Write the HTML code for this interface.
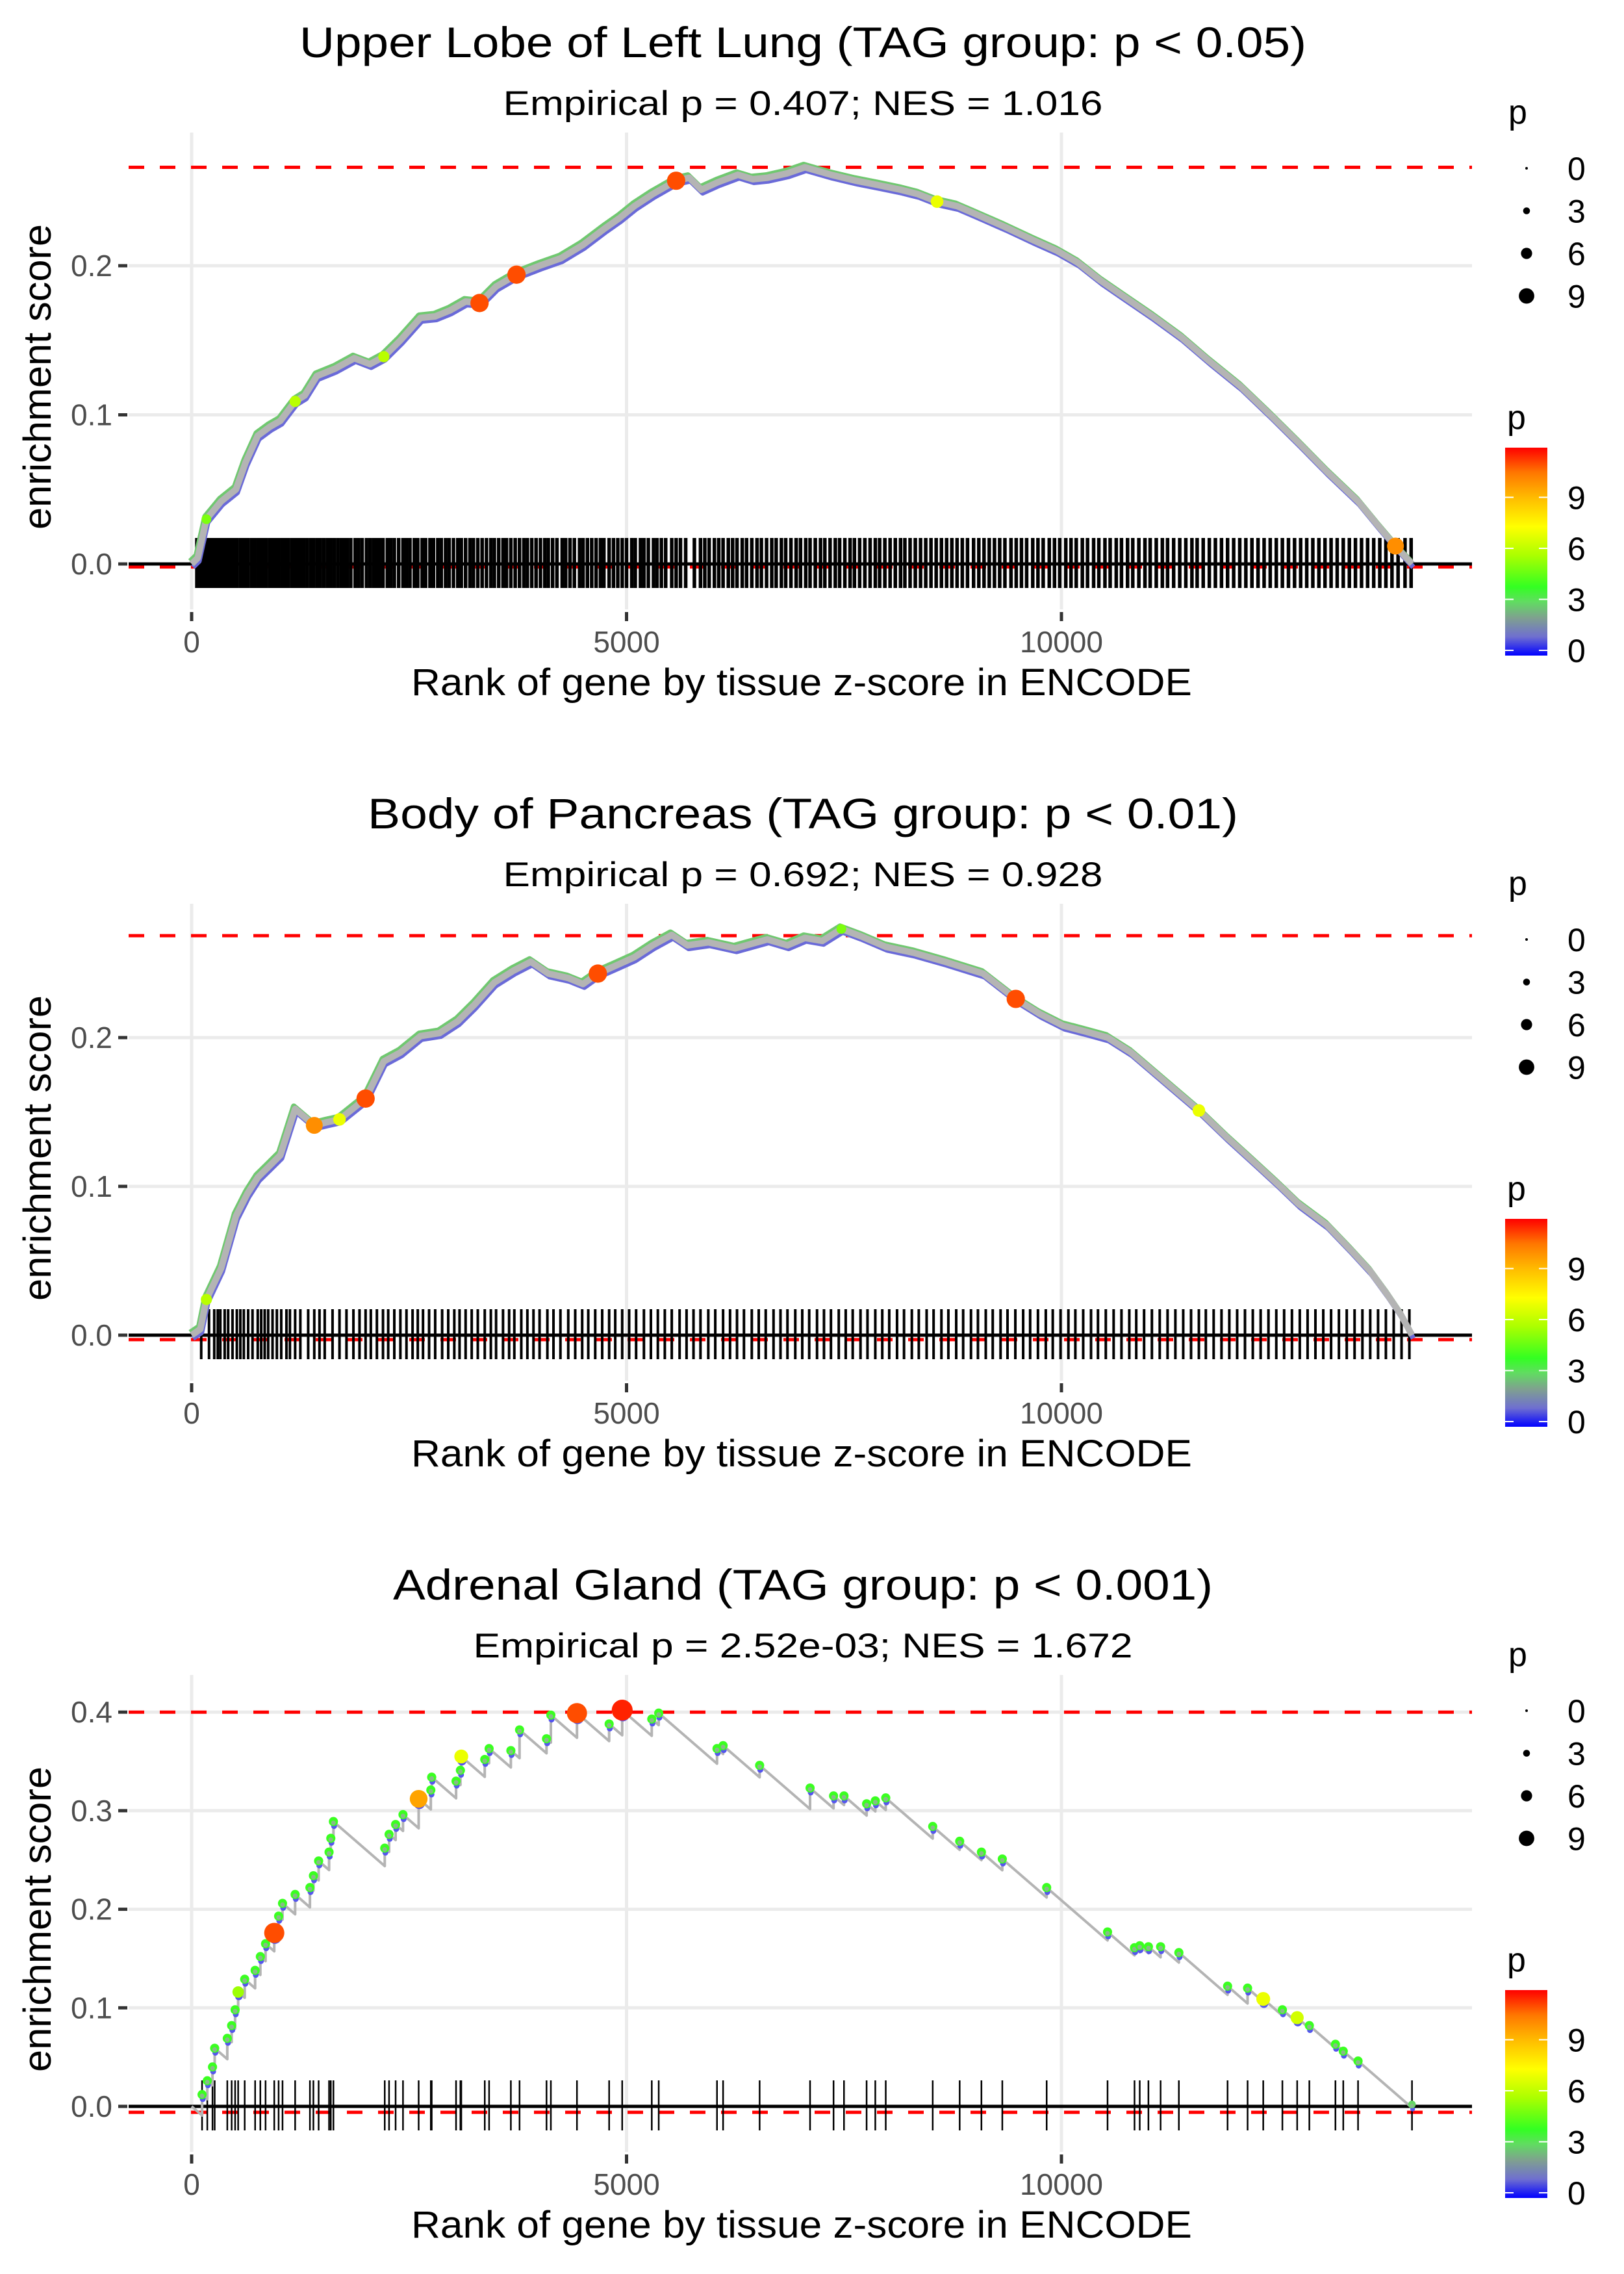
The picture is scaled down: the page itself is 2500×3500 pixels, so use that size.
<!DOCTYPE html>
<html><head><meta charset="utf-8">
<style>
html,body{margin:0;padding:0;background:#fff;}
svg{display:block;font-family:"Liberation Sans",Arial,sans-serif;}
</style></head>
<body>
<svg id="chart" xmlns="http://www.w3.org/2000/svg" width="2500" height="3500" viewBox="0 0 2500 3500">
<defs>
<linearGradient id="pgrad" x1="0" y1="1" x2="0" y2="0">
<stop offset="0" stop-color="#0000ff"/>
<stop offset="0.09" stop-color="#6f6fd0"/>
<stop offset="0.18" stop-color="#7fa090"/>
<stop offset="0.26" stop-color="#60dd60"/>
<stop offset="0.33" stop-color="#33ff22"/>
<stop offset="0.48" stop-color="#aaff00"/>
<stop offset="0.62" stop-color="#ffff00"/>
<stop offset="0.76" stop-color="#ffbb00"/>
<stop offset="0.88" stop-color="#ff7700"/>
<stop offset="1" stop-color="#ff0000"/>
</linearGradient>
</defs>
</svg>
<script>
// ---------- Panel 1 data: Upper Lobe of Left Lung ----------
const p1Rank = [0,70,170,340,510,620,760,900,1020,1190,1300,1440,1650,1870,2050,2210,2400,2630,2800,2970,3150,3310,3500,3735,4000,4245,4500,4750,4920,5090,5300,5570,5720,5860,6050,6280,6450,6620,6850,7050,7350,7640,7900,8150,8350,8570,8800,9000,9350,9680,9950,10190,10450,10700,11050,11380,11700,12060,12400,12730,13050,13410,13650,13840,14030];
const p1ES = [0,0.004,0.03,0.042,0.05,0.068,0.086,0.092,0.096,0.109,0.113,0.126,0.131,0.138,0.134,0.139,0.15,0.165,0.166,0.17,0.176,0.175,0.186,0.194,0.2,0.205,0.214,0.225,0.232,0.24,0.248,0.257,0.259,0.251,0.256,0.261,0.258,0.259,0.262,0.266,0.261,0.257,0.254,0.251,0.248,0.243,0.24,0.235,0.226,0.217,0.21,0.202,0.19,0.18,0.166,0.152,0.136,0.119,0.1,0.081,0.062,0.042,0.025,0.012,0];
const p1P = [2,2,5,3,3,3,2,3,2,6,3,3,3,4,3,6,3,3,3,3,3,11,3,11,4,3,3,4,3,3,3,11,4,3,4,3,4,3,4,4,3,3,3,3,3,7,3,3,3,4,3,3,3,3,3,4,3,3,3,4,3,4,3,10,2];
const p1Hits = [60,95,130,160,185,210,240,275,300,330,360,385,410,445,470,500,520,560,590,615,650,690,720,760,790,830,860,900,935,965,1000,1040,1080,1110,1150,1185,1220,1260,1290,1330,1370,1400,1440,1480,1520,1560,1600,1640,1680,1720,1760,1790,1830,1880,1920,1960,2010,2050,2090,2130,2160,2200,2250,2290,2330,2380,2430,2470,2510,2560,2600,2650,2690,2740,2780,2830,2870,2920,2960,3010,3060,3100,3150,3200,3240,3290,3340,3390,3440,3480,3530,3580,3620,3670,3720,3770,3820,3860,3910,3960,4010,4060,4100,4150,4200,4260,4300,4350,4400,4460,4500,4550,4600,4650,4700,4740,4800,4850,4900,4950,5000,5060,5100,5160,5200,5250,5310,5350,5400,5450,5520,5570,5620,5680,5780,5850,5900,5950,6010,6060,6110,6170,6220,6270,6330,6380,6440,6500,6550,6610,6670,6720,6780,6830,6890,6950,7000,7060,7110,7170,7230,7280,7340,7400,7450,7510,7570,7620,7680,7740,7800,7860,7910,7970,8030,8090,8150,8200,8260,8320,8380,8440,8500,8560,8620,8680,8740,8800,8860,8920,8990,9050,9110,9170,9230,9290,9350,9420,9480,9540,9600,9670,9730,9790,9860,9920,9980,10050,10110,10170,10240,10300,10370,10430,10500,10560,10630,10690,10760,10820,10890,10960,11020,11090,11160,11220,11290,11360,11430,11500,11560,11630,11700,11770,11840,11910,11980,12050,12120,12190,12260,12330,12400,12470,12540,12610,12680,12750,12820,12890,12960,13030,13100,13170,13240,13310,13380,13450,13520,13590,13660,13730,13800,13870,13950,14020];

// ---------- Panel 2 data: Body of Pancreas ----------
const p2Rank = [0,100,170,340,510,640,760,900,1020,1190,1410,1550,1700,2000,2210,2400,2630,2850,3060,3250,3480,3700,3900,4100,4330,4500,4670,4900,5090,5300,5520,5700,5940,6250,6620,6850,7050,7250,7470,7700,7980,8300,8660,9100,9475,9750,10020,10280,10530,10800,11040,11300,11580,11900,12220,12480,12730,13050,13330,13550,13750,13900,14030];
const p2ES = [0,0.004,0.024,0.045,0.08,0.095,0.106,0.114,0.121,0.152,0.141,0.143,0.145,0.159,0.184,0.19,0.201,0.203,0.211,0.222,0.237,0.245,0.251,0.243,0.24,0.236,0.243,0.249,0.254,0.262,0.269,0.262,0.264,0.26,0.266,0.262,0.267,0.265,0.273,0.268,0.261,0.257,0.251,0.243,0.226,0.216,0.208,0.204,0.2,0.19,0.178,0.165,0.151,0.133,0.116,0.102,0.088,0.074,0.057,0.043,0.027,0.014,0];
const p2P = [2,2,6,3,3,3,3,3,3,3,10,3,7,11,3,3,3,3,3,3,3,3,3,3,3,3,11,3,3,3,3,3,3,3,3,3,4,3,5,3,3,3,3,3,11,3,3,3,4,3,3,3,7,3,3,3,4,3,3,3,3,3,2];
const p2Hits = [110,200,260,300,330,380,420,470,520,560,600,650,700,760,800,840,880,930,980,1030,1090,1130,1190,1250,1340,1410,1470,1530,1620,1700,1780,1860,1930,2000,2060,2130,2200,2260,2330,2400,2470,2540,2600,2660,2730,2800,2880,2950,3020,3080,3150,3220,3290,3370,3440,3500,3580,3650,3710,3790,3860,3930,4000,4090,4160,4240,4330,4410,4490,4560,4640,4720,4800,4870,4950,5030,5110,5200,5280,5360,5440,5520,5610,5690,5770,5850,5940,6020,6110,6190,6270,6350,6440,6520,6600,6690,6770,6850,6940,7020,7100,7190,7270,7350,7440,7520,7600,7690,7770,7860,7940,8020,8110,8190,8280,8360,8450,8530,8620,8700,8790,8870,8960,9040,9130,9210,9300,9380,9470,9560,9640,9730,9820,9900,9990,10080,10160,10250,10340,10420,10510,10600,10690,10780,10860,10950,11040,11130,11220,11310,11400,11490,11580,11660,11750,11840,11930,12020,12110,12200,12290,12380,12470,12560,12650,12740,12830,12920,13010,13100,13190,13280,13370,13460,13550,13640,13730,13820,13910,14000];

// ---------- Panel 3 data: Adrenal Gland (hit ranks, ES after each hit, p) ----------
const p3Hits = [120,180,240,265,410,460,500,535,610,730,790,850,950,1000,1045,1190,1360,1400,1460,1580,1600,1630,2220,2270,2345,2430,2610,2750,2760,3040,3090,3100,3370,3420,3670,3770,4080,4130,4430,4800,4950,5290,5370,6040,6110,6530,7110,7380,7500,7760,7860,7980,8520,8830,9080,9320,9830,10530,10840,10900,11000,11140,11350,11910,12140,12320,12540,12710,12850,13150,13240,13410,14030];
const p3ES = [0.012,0.026,0.04,0.059,0.069,0.082,0.098,0.116,0.129,0.138,0.152,0.165,0.176,0.193,0.206,0.215,0.222,0.234,0.249,0.258,0.272,0.289,0.262,0.276,0.286,0.296,0.312,0.321,0.334,0.33,0.341,0.355,0.352,0.363,0.361,0.382,0.373,0.397,0.399,0.388,0.402,0.393,0.399,0.363,0.366,0.346,0.323,0.315,0.315,0.307,0.31,0.313,0.284,0.269,0.258,0.251,0.222,0.177,0.161,0.163,0.162,0.162,0.156,0.122,0.12,0.109,0.098,0.09,0.082,0.063,0.056,0.046,0.002];
const p3P = [4,4,4,4,4,4,4,5.5,4,4,4,4,11,4,4,4,4,4,4,4,4,4,4,4,4,4,9.5,4,4,4,4,7,4,4,4,4,4,4,11,4,11.5,4,4,4,4,4,4,4,4,4,4,4,4,4,4,4,4,4,4,4,4,4,4,4,4,7,4,6.5,4,4,4,4,3];
const p3MissDrop = 0.0000765;

// ---------- shared labels ----------
const titles = ["Upper Lobe of Left Lung (TAG group: p < 0.05)","Body of Pancreas (TAG group: p < 0.01)","Adrenal Gland (TAG group: p < 0.001)"];
const subtitles = ["Empirical p = 0.407; NES = 1.016","Empirical p = 0.692; NES = 0.928","Empirical p = 2.52e-03; NES = 1.672"];
const titleLens = [1550,1340,1262];
const subLens = [923,923,1015];
const xTicks = [0,5000,10000];
const yTicksA = [0,0.1,0.2];
const yTicksC = [0,0.1,0.2,0.3,0.4];
const topLines = [0.266,0.2685,0.4];
const botLines = [-0.002,-0.003,-0.006];
const sizeLegend = [0,3,6,9];
const colorLegend = [0,3,6,9];
const rugWidths = [5.5,4,2.5];

const NS = "http://www.w3.org/2000/svg";
const svg = document.getElementById('chart');
function mk(tag, attrs, parent, text){
  const e = document.createElementNS(NS, tag);
  for (const k in attrs) e.setAttribute(k, attrs[k]);
  if (text !== undefined) e.textContent = text;
  (parent || svg).appendChild(e);
  return e;
}
const colorStops = [[0,[0,0,255]],[1,[111,111,208]],[2.2,[127,160,144]],[3.1,[96,221,96]],[3.9,[51,255,34]],[5.7,[170,255,0]],[7.4,[255,255,0]],[9,[255,187,0]],[10.5,[255,119,0]],[11.9,[255,0,0]]];
function pColor(p){
  if (p <= colorStops[0][0]) return 'rgb(0,0,255)';
  for (let i=1;i<colorStops.length;i++){
    if (p <= colorStops[i][0]){
      const a=colorStops[i-1], b=colorStops[i], t=(p-a[0])/(b[0]-a[0]);
      const c=a[1].map((v,j)=>Math.round(v+(b[1][j]-v)*t));
      return 'rgb('+c.join(',')+')';
    }
  }
  return 'rgb(255,0,0)';
}
function pRadius(p){ return 2 + p*1.1; }

const X0 = 295, XS = 0.1339;
function xScale(r){ return X0 + r*XS; }
const offs = [0,1187,2374];
const yUnit = [2295,2290,1517];
function makeY(k){ const y0 = 868 + offs[k]; return v => y0 - v*yUnit[k]; }

function drawPanel(k, ranks, es, ps, hits, yTicks, sawtooth){
  const off = offs[k], yS = makeY(k);
  const g = mk('g', {});
  
  
  const t = mk('text', {x:1236, y:88+off, 'font-size':66, 'text-anchor':'middle', fill:'#000', textLength:titleLens[k], lengthAdjust:'spacingAndGlyphs'}, g, titles[k]);
  
  
  const st = mk('text', {x:1236, y:177+off, 'font-size':53, 'text-anchor':'middle', fill:'#000', textLength:subLens[k], lengthAdjust:'spacingAndGlyphs'}, g, subtitles[k]);
  
  
  const top = 204 + off, bot = 938 + off;
  yTicks.forEach(v => {
    const gl = mk('line', {x1:198, x2:2266, y1:yS(v), y2:yS(v), stroke:'#ebebeb', 'stroke-width':5}, g);
    
    
    const tm = mk('line', {x1:182, x2:196, y1:yS(v), y2:yS(v), stroke:'#333', 'stroke-width':5}, g);
    
    
    const tl = mk('text', {x:173, y:yS(v)+16, 'font-size':46, 'text-anchor':'end', fill:'#4d4d4d'}, g, v.toFixed(1));
    
    
  });
  xTicks.forEach(v => {
    const gl = mk('line', {x1:xScale(v), x2:xScale(v), y1:top, y2:bot, stroke:'#ebebeb', 'stroke-width':5}, g);
    
    
    const tm = mk('line', {x1:xScale(v), x2:xScale(v), y1:bot+4, y2:bot+18, stroke:'#333', 'stroke-width':5}, g);
    
    
    const tl = mk('text', {x:xScale(v), y:bot+66, 'font-size':46, 'text-anchor':'middle', fill:'#4d4d4d'}, g, String(v));
    
    
  });
  const xt = mk('text', {x:1234, y:1070+off, 'font-size':58, 'text-anchor':'middle', fill:'#000', textLength:1202, lengthAdjust:'spacingAndGlyphs'}, g, 'Rank of gene by tissue z-score in ENCODE');
  
  
  const yt = mk('text', {x:0, y:0, 'font-size':60, 'text-anchor':'middle', fill:'#000', transform:'translate(78,'+(580+off)+') rotate(-90)', textLength:470, lengthAdjust:'spacingAndGlyphs'}, g, 'enrichment score');
  
  
  [topLines[k], botLines[k]].forEach(v => {
    const l = mk('line', {x1:198, x2:2266, y1:yS(v), y2:yS(v), stroke:'#ff0000', 'stroke-width':5, 'stroke-dasharray':'24 24'}, g);
    
    
  });
  const zl = mk('line', {x1:198, x2:2266, y1:yS(0), y2:yS(0), stroke:'#000', 'stroke-width':5}, g);
  
  
  const rug = mk('g', {}, g);
  
  
  hits.forEach(h => {
    const l = mk('line', {x1:xScale(h), x2:xScale(h), y1:yS(0)-40, y2:yS(0)+37, stroke:'#000', 'stroke-width':rugWidths[k]}, rug);
    
    
  });
  let pts = [];
  if (sawtooth){
    pts.push([0,0]);
    let prevR = 0, prevE = 0;
    ranks.forEach((r,i) => {
      const before = prevE - p3MissDrop*(r-prevR);
      pts.push([r, before]); pts.push([r, es[i]]);
      prevR = r; prevE = es[i];
    });
  } else {
    ranks.forEach((r,i) => pts.push([r, es[i]]));
  }
  const ptStr = pts.map(p => xScale(p[0]).toFixed(1)+','+yS(p[1]).toFixed(1)).join(' ');
  if (!sawtooth){
    const blue = mk('polyline', {points:ptStr, fill:'none', stroke:'#6a6ad8', 'stroke-width':8, transform:'translate(2,5)', 'stroke-linejoin':'round'}, g);
    
    
    const grn = mk('polyline', {points:ptStr, fill:'none', stroke:'#70c870', 'stroke-width':9, transform:'translate(-2,-4)', 'stroke-linejoin':'round'}, g);
    
    
  }
  const line = mk('polyline', {points:ptStr, fill:'none', stroke:'#b4b4b4', 'stroke-width':sawtooth?4:10, 'stroke-linejoin':'round'}, g);
  
  
  ranks.forEach((r,i) => {
    const p = ps[i];
    if (!sawtooth && p < 5) return;
    if (sawtooth){
      const b = mk('circle', {cx:xScale(r)+1, cy:yS(es[i])+7, r:pRadius(p)*0.7, fill:'#5555ee'}, g);
      
      
    }
    const c = mk('circle', {cx:xScale(r), cy:yS(es[i]), r:pRadius(p)*(sawtooth?1.1:1), fill:pColor(p)}, g);
    
    
    if (sawtooth && p < 5){
      const inner = mk('circle', {cx:xScale(r), cy:yS(es[i])+2, r:pRadius(p)*0.55, fill:'#88bb88'}, g);
      
      
    }
  });
  const lg = mk('g', {}, g);
  
  
  const lt = mk('text', {x:2322, y:190+off, 'font-size':52, fill:'#000'}, lg, 'p');
  
  
  sizeLegend.forEach((v,i) => {
    const cy = 259 + i*65.5 + off;
    const c = mk('circle', {cx:2350, cy:cy, r:pRadius(v), fill:'#000'}, lg);
    
    
    const tx = mk('text', {x:2413, y:cy+18, 'font-size':50, fill:'#000'}, lg, String(v));
    
    
  });
  const cg = mk('g', {}, g);
  
  
  const ct = mk('text', {x:2320, y:660+off, 'font-size':52, fill:'#000'}, cg, 'p');
  
  
  const bar = mk('rect', {x:2317, y:689+off, width:65, height:320, fill:'url(#pgrad)'}, cg);
  
  
  colorLegend.forEach(v => {
    const cy = 1001 - v*26.17 + off;
    const a = mk('line', {x1:2317, x2:2330, y1:cy, y2:cy, stroke:'#fff', 'stroke-width':2}, cg);
    
    
    const b = mk('line', {x1:2369, x2:2382, y1:cy, y2:cy, stroke:'#fff', 'stroke-width':2}, cg);
    
    
    const tx = mk('text', {x:2413, y:cy+18, 'font-size':50, fill:'#000'}, cg, String(v));
    
    
  });
}
drawPanel(0, p1Rank, p1ES, p1P, p1Hits, yTicksA, false);
drawPanel(1, p2Rank, p2ES, p2P, p2Hits, yTicksA, false);
drawPanel(2, p3Hits, p3ES, p3P, p3Hits, yTicksC, true);
</script>
</body></html>
